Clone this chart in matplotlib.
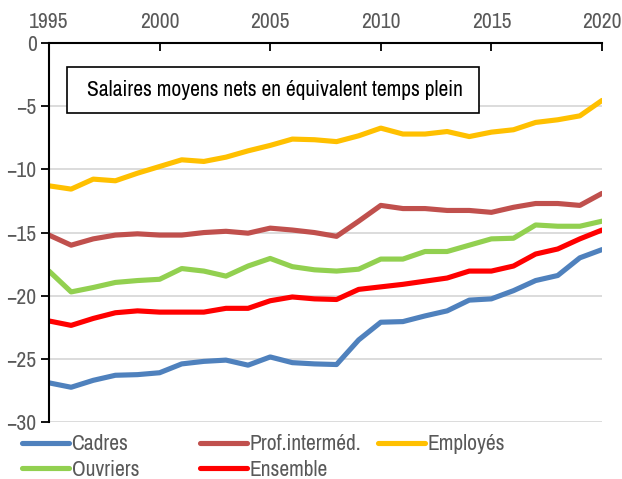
import matplotlib
matplotlib.use("Agg")
import matplotlib.pyplot as plt
import matplotlib.patches as patches
from matplotlib import font_manager

# narrow sans-serif for all text, first one found on the system
installed = {f.name for f in font_manager.fontManager.ttflist}
narrow = [n for n in ['Liberation Sans Narrow', 'Arial Narrow', 'Archivo Narrow',
                      'PT Sans Narrow', 'Roboto Condensed', 'Pragati Narrow']
          if n in installed]
plt.rcParams['font.family'] = narrow[:1] + ['DejaVu Sans']

years = list(range(1995, 2021))

cadres = [-26.9, -27.25, -26.7, -26.3, -26.25, -26.1, -25.4, -25.2, -25.1, -25.5,
          -24.85, -25.3, -25.4, -25.45, -23.5, -22.1, -22.05, -21.6, -21.2, -20.35,
          -20.25, -19.6, -18.8, -18.4, -17.0, -16.35]
prof_interm = [-15.2, -16.0, -15.5, -15.2, -15.1, -15.2, -15.2, -15.0, -14.9, -15.05,
               -14.65, -14.8, -15.0, -15.3, -14.1, -12.85, -13.1, -13.1, -13.25, -13.25,
               -13.4, -13.0, -12.7, -12.7, -12.85, -11.9]
employes = [-11.3, -11.56, -10.77, -10.9, -10.3, -9.77, -9.24, -9.37, -9.03, -8.53,
            -8.1, -7.6, -7.65, -7.8, -7.34, -6.73, -7.2, -7.2, -7.0, -7.4,
            -7.05, -6.86, -6.28, -6.07, -5.76, -4.54]
ouvriers = [-18.05, -19.7, -19.35, -18.95, -18.8, -18.7, -17.85, -18.05, -18.45, -17.65,
            -17.05, -17.7, -17.95, -18.05, -17.9, -17.1, -17.1, -16.5, -16.5, -16.0,
            -15.5, -15.45, -14.4, -14.5, -14.5, -14.1]
ensemble = [-22.0, -22.35, -21.8, -21.35, -21.2, -21.3, -21.3, -21.3, -21.0, -21.0,
            -20.4, -20.1, -20.25, -20.3, -19.5, -19.3, -19.1, -18.85, -18.6, -18.05,
            -18.05, -17.65, -16.7, -16.3, -15.5, -14.8]

series = [
    ("Cadres", cadres, "#4F81BD"),
    ("Prof.interméd.", prof_interm, "#C0504D"),
    ("Employés", employes, "#FFC000"),
    ("Ouvriers", ouvriers, "#92D050"),
    ("Ensemble", ensemble, "#FF0000"),
]

txt = "#595959"
fs = 15.5

fig = plt.figure(figsize=(6.22, 4.79), dpi=100)
ax = fig.add_axes([0.0788, 0.119, 0.889, 0.791])

lines = {}
for name, vals, col in series:
    lines[name], = ax.plot(years, vals, color=col, lw=3.7, label=name,
                           solid_capstyle='round')

ax.set_xlim(1995, 2020)
ax.set_ylim(-30, 0)
ax.set_xticks(range(1995, 2021, 5))
ax.set_yticks(range(-30, 1, 5))
ax.xaxis.tick_top()
ax.tick_params(axis='x', direction='in', length=6, width=1.3, colors='black',
               labelcolor=txt, labelsize=fs, pad=8)
ax.tick_params(axis='y', direction='out', length=6, width=1.3, colors='black',
               labelcolor=txt, labelsize=fs, pad=3)
ax.grid(axis='y', color='#D9D9D9', lw=1.3)
ax.set_axisbelow(True)
for s in ['right', 'bottom']:
    ax.spines[s].set_visible(False)
for s in ['left', 'top']:
    ax.spines[s].set_linewidth(1.5)

# framed title inside the plot area
ax.add_patch(patches.Rectangle((0.0325, 0.8153), 0.745, 0.1214, transform=ax.transAxes,
                               fc='white', ec='black', lw=1.2, zorder=5))
ax.text(0.0687, 0.877, "Salaires moyens nets en équivalent temps plein",
        transform=ax.transAxes, fontsize=fs, color='black', va='center', ha='left',
        zorder=6)

# legend in three columns of equal width
columns = [(0.0354, ["Cadres", "Ouvriers"]),
           (0.3215, ["Prof.interméd.", "Ensemble"]),
           (0.6077, ["Employés"])]
for x0, names in columns:
    fig.legend([lines[n] for n in names], names, loc='upper left',
               bbox_to_anchor=(x0, 0.093), frameon=False, fontsize=fs,
               labelcolor=txt, handlelength=2.2, handletextpad=0.1,
               labelspacing=0.25, borderaxespad=0.0, borderpad=0.0)

fig.savefig("out.png", dpi=100)
